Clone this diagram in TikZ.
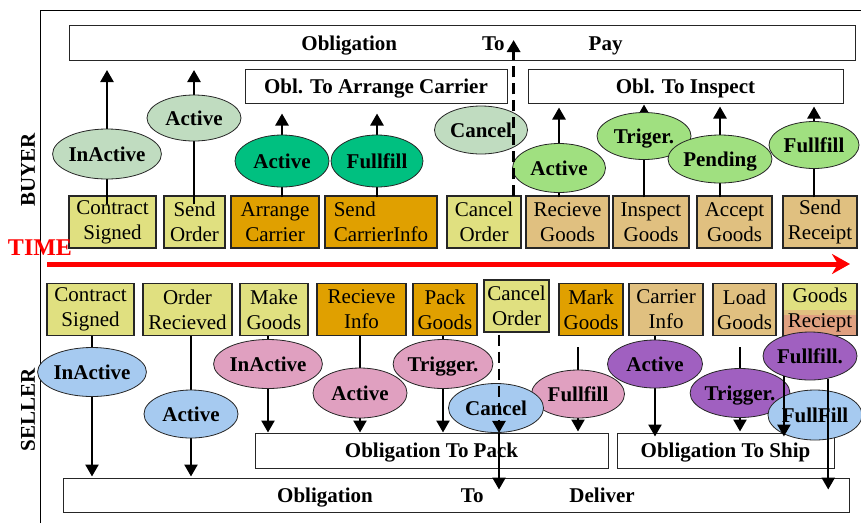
\documentclass[tikz,border=0pt]{standalone}
\usepackage{fontspec}
\setmainfont{Liberation Serif}[Ligatures=NoCommon]
\usetikzlibrary{shapes.geometric}
\usetikzlibrary{arrows.meta}
\definecolor{evyel}{HTML}{E0E080}
\definecolor{evorg}{HTML}{E0A000}
\definecolor{evtan}{HTML}{E0C080}
\definecolor{evsalm}{HTML}{E0A080}
\definecolor{stlgrn}{HTML}{C0DCC0}
\definecolor{sttl}{HTML}{00C080}
\definecolor{stgrn}{HTML}{A0E080}
\definecolor{stblu}{HTML}{A6CAF0}
\definecolor{stpnk}{HTML}{E0A0C0}
\definecolor{stpur}{HTML}{A060C0}
\tikzset{
	evnode/.style = {draw=black!85, line width=1.2pt, inner sep=0pt, align=center,
		minimum height=52pt, font=\fontsize{21}{25}\selectfont},
	ev_y/.style = {evnode, fill=evyel},% event, yellow
	ev_o/.style = {evnode, fill=evorg},% event, orange
	ev_t/.style = {evnode, fill=evtan},% event, tan
	ev_g/.style = {evnode, path picture={% event, three bands
		\fill[evtan] (path picture bounding box.south west) rectangle (path picture bounding box.north east);
		\fill[evyel] (path picture bounding box.north west) rectangle ([yshift=-26pt]path picture bounding box.north east);
		\fill[evsalm] (path picture bounding box.south west) rectangle ([yshift=21pt]path picture bounding box.south east);}},
	st/.style = {ellipse, draw=black!85, line width=0.8pt, inner sep=0pt, text height=14pt, text depth=0pt,
		minimum width=94pt, minimum height=48pt, font=\bfseries\fontsize{21}{25}\selectfont},
	st_lg/.style = {st, fill=stlgrn},% state, grey green
	st_tl/.style = {st, fill=sttl},% state, teal
	st_gr/.style = {st, fill=stgrn},% state, light green
	st_bl/.style = {st, fill=stblu},% state, blue
	st_pk/.style = {st, fill=stpnk},% state, pink
	st_pu/.style = {st, fill=stpur},% state, purple
	obl/.style = {draw=black!85, line width=1pt, fill=white, inner sep=0pt, text height=14pt, text depth=0pt,
		minimum height=35pt, font=\bfseries\fontsize{21}{25}\selectfont},
	con/.style = {->, line width=2.5pt},
	dcon/.style = {con, line width=3pt, dash pattern=on 11pt off 6pt},
	timeline/.style = {-{Stealth[length=18pt,width=20pt]}, red, line width=5pt}
}
\begin{document}
\begin{tikzpicture}[x=1pt, y=-1pt, >={Triangle[width=13pt,length=12pt]}]
	\useasboundingbox (0,0) rectangle (861,523);
	\draw[line width=1pt] (40,523) -- (40,10) -- (861,10);
	\node[rotate=90, font=\bfseries\fontsize{21}{25}\selectfont] (buyer) at (28,170) {BUYER};
	\node[rotate=90, font=\bfseries\fontsize{21}{25}\selectfont] (seller) at (28,410) {SELLER};
	% buyer
	\node[obl, minimum width=786pt] (pay) at (462,43) {Obligation\hspace{85pt}To\hspace{84pt}Pay};
	\node[obl, minimum width=262pt, minimum height=34pt] (arr) at (376,86) {Obl. To Arrange Carrier};
	\node[obl, minimum width=315pt, minimum height=34pt] (insp) at (685.5,86) {Obl. To Inspect};
	\node[ev_y, minimum width=87pt] (bcs) at (112.5,222) {Contract\\Signed};
	\node[ev_y, minimum width=61pt] (bso) at (194.5,222) {Send\\Order};
	\node[ev_o, minimum width=88pt] (bac) at (275,222) {Arrange\\Carrier};
	\node[ev_o, minimum width=112pt, align=left] (bsi) at (381,222) {Send\\CarrierInfo};
	\node[ev_y, minimum width=74pt] (bco) at (484,222) {Cancel\\Order};
	\node[ev_t, minimum width=83pt] (brg) at (567.5,222) {Recieve\\Goods};
	\node[ev_t, minimum width=76pt] (big) at (651,222) {Inspect\\Goods};
	\node[ev_t, minimum width=75pt] (bag) at (734.5,222) {Accept\\Goods};
	\node[ev_t, minimum width=74pt] (bsr) at (820,222) {Send\\Receipt};
	\coordinate (bin) at (107,154);
	\coordinate (bact1) at (194,118);
	\coordinate (bact2) at (282,161);
	\coordinate (bful1) at (377,161);
	\coordinate (bact3) at (559,168);
	\coordinate (btrg) at (644,136);
	\coordinate (bpen) at (720,159);
	\coordinate (bful2) at (814,145);
	\draw[con, shorten <=-9pt, shorten >=9pt] (bcs.north -| bin) -- (pay.south -| bin);
	\draw[con, shorten <=-9pt, shorten >=9pt] (bso.north -| bact1) -- (pay.south -| bact1);
	\draw[con, shorten <=-2pt, shorten >=10pt] (bac.north -| bact2) -- (arr.south -| bact2);
	\draw[con, shorten <=-2pt, shorten >=10pt] (bsi.north -| bful1) -- (arr.south -| bful1);
	\draw[con, shorten <=-2pt, shorten >=4pt] (brg.north -| bact3) -- (insp.south -| bact3);
	\draw[con, shorten <=-2pt, shorten >=1pt] (big.north -| btrg) -- (insp.south -| btrg);
	\draw[con, shorten <=-2pt, shorten >=3pt] (bag.north -| bpen) -- (insp.south -| bpen);
	\draw[con, shorten <=-2pt, shorten >=3pt] (bsr.north -| bful2) -- (insp.south -| bful2);
	\node[st_lg, minimum height=50pt] at (bin) {InActive};
	\node[st_lg, minimum height=46pt] at (bact1) {Active};
	\node[st_tl, minimum height=52pt] at (bact2) {Active};
	\node[st_tl, minimum width=92pt, minimum height=52pt] at (bful1) {Fullfill};
	\node[st_lg, minimum width=93pt] (bcan) at (481,130) {Cancel};
	\node[st_gr, minimum height=47pt] at (btrg) {Triger.};
	\node[st_gr, minimum width=93pt, minimum height=49pt] at (bact3) {Active};
	\node[st_gr, minimum width=93pt] at (bpen) {Pending};
	\node[st_gr, minimum width=90pt, minimum height=47pt] at (bful2) {Fullfill};
	\draw[dcon, shorten <=-1pt, shorten >=-21pt] ([xshift=-8pt]bco.north east) -- ([xshift=-8pt]bco.north east |- pay.south);
	% time
	\node[red, font=\bfseries\fontsize{24}{28}\selectfont] (time) at (40,248) {TIME};
	\coordinate (t0) at (47,264);
	\coordinate (t1) at (850,264);
	\draw[timeline] (t0) -- (t1);
	% seller
	\node[ev_y, minimum width=87pt] (scs) at (90.5,309.5) {Contract\\Signed};
	\node[ev_y, minimum width=89pt] (sor) at (187.5,309.5) {Order\\Recieved};
	\node[ev_y, minimum width=68pt] (smg) at (274,309.5) {Make\\Goods};
	\node[ev_o, minimum width=89pt] (sri) at (361.5,309.5) {Recieve\\Info};
	\node[ev_o, minimum width=64pt] (spg) at (445,309.5) {Pack\\Goods};
	\node[ev_y, minimum width=65pt] (sco) at (516.5,306) {Cancel\\Order};
	\node[ev_o, minimum width=64pt] (smk) at (591,309.5) {Mark\\Goods};
	\node[ev_t, minimum width=74pt] (sci) at (666,309.5) {Carrier\\Info};
	\node[ev_t, minimum width=63pt] (slg) at (744.5,309.5) {Load\\Goods};
	\node[ev_g, minimum width=74pt] (sgr) at (820,309.5) {Goods\\Reciept};
	\node[obl, minimum width=353pt] (pack) at (431.5,450.5) {Obligation To Pack};
	\node[obl, minimum width=217pt] (ship) at (725.5,450.5) {Obligation To Ship};
	\node[obl, minimum width=786pt, minimum height=34pt] (deliver) at (456,495) {Obligation\hspace{88pt}To\hspace{86pt}Deliver};
	\coordinate (sina) at (92,372);
	\coordinate (sact1) at (191,414);
	\coordinate (sinb) at (268,364);
	\coordinate (sact2) at (360,393);
	\coordinate (strg1) at (443,364);
	\coordinate (sful1) at (578,394);
	\coordinate (sact3) at (655,364);
	\coordinate (strg2) at (740,393);
	\draw[con, shorten >=1pt] (scs.south -| sina) -- (deliver.north -| sina);
	\draw[con, shorten >=1pt] (sor.south -| sact1) -- (deliver.north -| sact1);
	\draw[con] (smg.south -| sinb) -- (pack.north -| sinb);
	\draw[con] (sri.south -| sact2) -- (pack.north -| sact2);
	\draw[con] (spg.south -| strg1) -- (pack.north -| strg1);
	\draw[con, shorten <=11pt, shorten >=1pt] (smk.south -| sful1) -- (pack.north -| sful1);
	\draw[con, shorten >=-4pt] (sci.south -| sact3) -- (ship.north -| sact3);
	\draw[con, shorten <=11pt, shorten >=1pt] (slg.south -| strg2) -- (ship.north -| strg2);
	\node[st_bl, minimum height=49pt] at (sina) {InActive};
	\node[st_bl] at (sact1) {Active};
	\node[st_pk, minimum height=49pt] at (sinb) {InActive};
	\node[st_pk, minimum height=50pt] at (sact2) {Active};
	\node[st_pk, minimum height=49pt] at (strg1) {Trigger.};
	\node[st_pk, minimum width=93pt] at (sful1) {Fullfill};
	\node[st_bl, minimum width=95pt, minimum height=49pt] (scan) at (496,408) {Cancel};
	\node[st_pu, minimum width=95pt] at (sact3) {Active};
	\node[st_pu, minimum width=93pt, minimum height=49pt] at (strg2) {Trigger.};
	\node[st_pu] (sful2) at (810,356) {Fullfill.};
	\node[st_bl, minimum width=91pt, minimum height=50pt] (sful3) at (815,415) {FullFill};
	\draw[dcon, line width=2.5pt, shorten <=2pt] ([xshift=3pt]sco.south -| scan) -- ([xshift=3pt]scan.south);
	\draw[con, shorten >=-12pt] ([xshift=3pt]scan.south) -- ([xshift=3pt]deliver.north -| scan);
	\draw[con, shorten >=-4pt] (sful2.218) -- (sful2.218 |- ship.north);
	\draw[con, shorten >=-12pt] (sful2.309) -- (sful2.309 |- deliver.north);
\end{tikzpicture}
\end{document}
